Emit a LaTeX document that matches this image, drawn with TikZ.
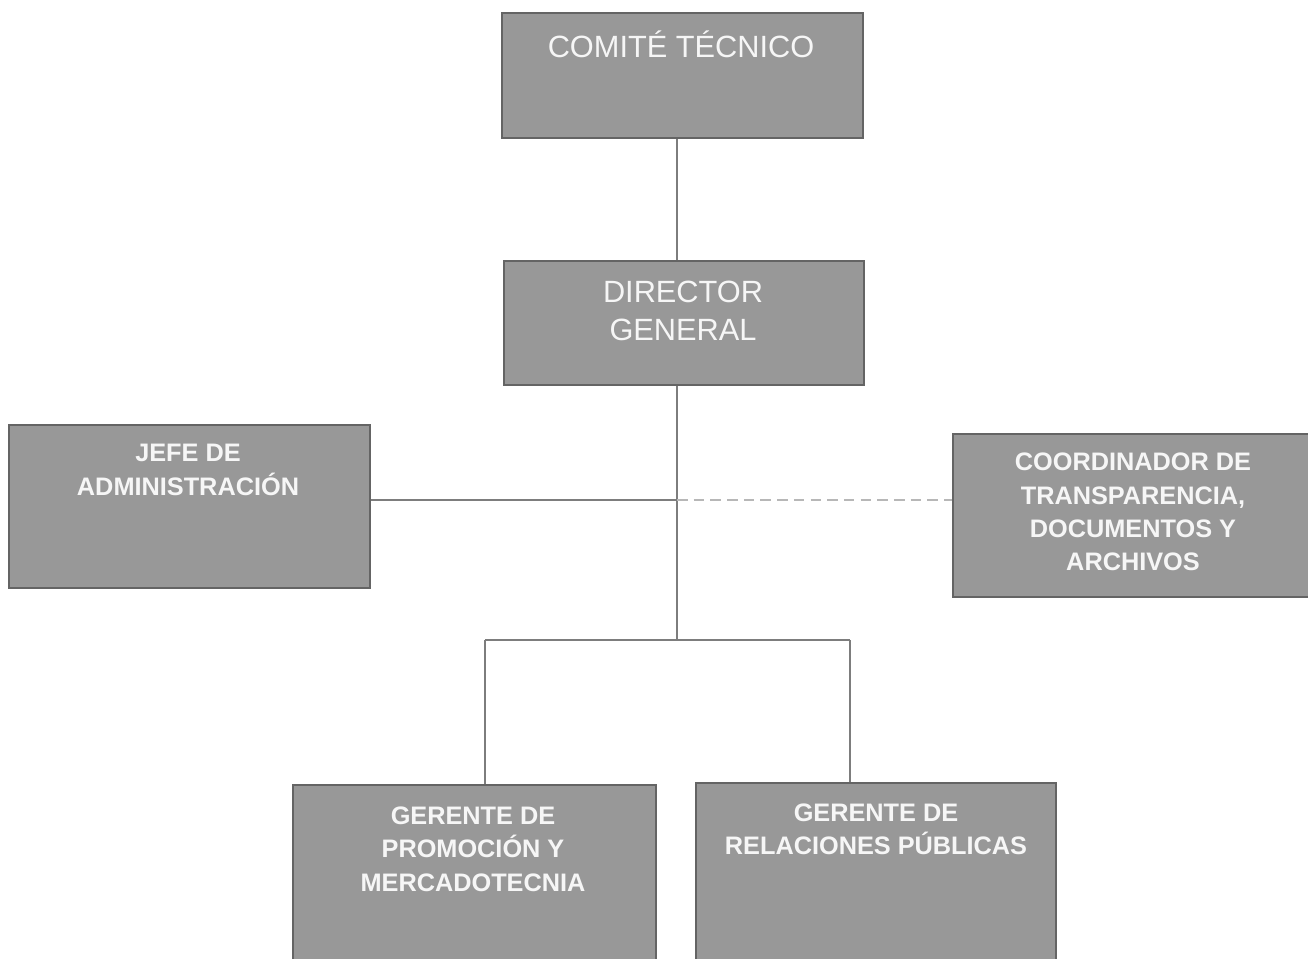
\documentclass[tikz,border=0pt]{standalone}
\usepackage{fontspec}
\setmainfont{Liberation Sans}

\definecolor{boxgray}{RGB}{152,152,152}
\definecolor{boxedge}{RGB}{100,100,100}
\definecolor{boxtext}{RGB}{246,246,246}
\definecolor{linegray}{RGB}{125,125,125}

\tikzset{
	orgbox/.style={draw=boxedge, line width=1.4pt, fill=boxgray, anchor=north west, inner sep=0pt},
	lighttext/.style={text=boxtext, align=center, font=\fontsize{17.5}{22}\selectfont},
	boldtext/.style={text=boxtext, align=center, font=\bfseries\fontsize{14.4}{19}\selectfont},
	link/.style={draw=linegray, line width=0.6pt},
	dashlink/.style={draw=linegray!55, line width=0.8pt, dash pattern=on 6pt off 3.5pt}
}

\begin{document}
\begin{tikzpicture}[x=0.02cm, y=-0.02cm]
	\useasboundingbox (0, 0) rectangle (1308, 959);

	%% boxes
	\node[orgbox, minimum width=361*0.02cm, minimum height=125*0.02cm] (ct) at (501, 12) {};
	\node[orgbox, minimum width=360*0.02cm, minimum height=124*0.02cm] (dg) at (503, 260) {};
	\node[orgbox, minimum width=361*0.02cm, minimum height=163*0.02cm] (ja) at (8, 424) {};
	\node[orgbox, minimum width=356*0.02cm, minimum height=163*0.02cm] (cd) at (952, 433) {};
	\node[orgbox, minimum width=363*0.02cm, minimum height=185*0.02cm] (gpm) at (292, 784) {};
	\node[orgbox, minimum width=360*0.02cm, minimum height=187*0.02cm] (grp) at (695, 782) {};

	%% box titles
	\node[lighttext] (ct-t) at (681, 44) {COMITÉ TÉCNICO};
	\node[lighttext] (dg-t) at (683, 311) {DIRECTOR\\GENERAL};
	\node[boldtext] (ja-t) at (188, 470) {JEFE DE\\ADMINISTRACIÓN};
	\node[boldtext] (cd-t) at (1133, 512) {COORDINADOR DE\\TRANSPARENCIA,\\DOCUMENTOS Y\\ARCHIVOS};
	\node[boldtext] (gpm-t) at (473, 849) {GERENTE DE\\PROMOCIÓN Y\\MERCADOTECNIA};
	\node[boldtext] (grp-t) at (876, 829) {GERENTE DE\\RELACIONES PÚBLICAS};

	%% junction points
	\coordinate (hub) at (677, 500);
	\coordinate (trunk) at (677, 640);
	\coordinate (bl) at (485, 640);
	\coordinate (br) at (850, 640);

	%% main line
	\draw[link] (ct.south -| hub) -- (dg.north -| hub);
	\draw[link] (dg.south -| hub) -- (trunk);

	%% staff lines
	\draw[link] (ja.east |- hub) -- (hub);
	\draw[dashlink] (hub) -- (cd.west |- hub);

	%% managers
	\draw[link] (bl) -- (br);
	\draw[link] (bl) -- (bl |- gpm.north);
	\draw[link] (br) -- (br |- grp.north);
\end{tikzpicture}
\end{document}
